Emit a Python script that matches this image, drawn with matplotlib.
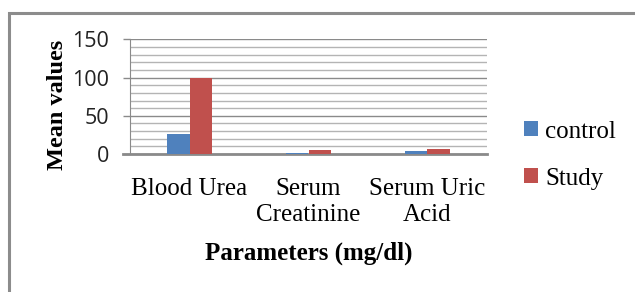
import numpy as np
import matplotlib.pyplot as plt
from matplotlib.patches import Rectangle

categories = ['Blood Urea', 'Serum\nCreatinine', 'Serum Uric\nAcid']
control = [26, 0.9, 4]
study = [100, 5, 7]

fig = plt.figure(figsize=(6.35, 2.92), dpi=100)

# outer chart border (top and left edges visible)
fig.patches.append(Rectangle((8.5 / 635, -0.1), 1.2, 1 - 13.5 / 292 + 0.1,
                             transform=fig.transFigure, fill=False,
                             edgecolor='#8c8c8c', linewidth=2.2))

ax = fig.add_axes([130 / 635, 1 - 154 / 292, 357 / 635, 114.5 / 292])
x = np.arange(len(categories))
w = 0.193
ax.bar(x - w / 2, control, w, color='#4F81BD', label='control', zorder=3)
ax.bar(x + w / 2, study, w, color='#C0504D', label='Study', zorder=3)

ax.set_xlim(-0.5, 2.5)
ax.set_ylim(0, 150)
ax.set_yticks([0, 50, 100, 150])
ax.set_yticks(np.arange(0, 151, 10), minor=True)
ax.yaxis.grid(True, which='major', color='#8a8a8a', linewidth=1.0, zorder=0)
ax.yaxis.grid(True, which='minor', color='#b4b4b4', linewidth=1.0, zorder=0)
ax.tick_params(axis='y', which='major', length=5, width=1, color='#8a8a8a',
               labelsize=15.5, pad=10)
ax.tick_params(axis='y', which='minor', length=0)
for lab in ax.get_yticklabels():
    lab.set_family('Open Sans')
    lab.set_color('#222222')

ax.set_xticks(x)
ax.set_xticklabels(categories, family='Liberation Serif', fontsize=18,
                   linespacing=1.25)
ax.tick_params(axis='x', length=0, pad=17)

for s in ['top', 'right']:
    ax.spines[s].set_visible(False)
ax.spines['left'].set_color('#8a8a8a')
ax.spines['bottom'].set_color('#8a8a8a')
ax.spines['bottom'].set_linewidth(2)
ax.spines['bottom'].set_bounds(-0.56, 2.5)

ax.set_ylabel('Mean values', family='Liberation Serif', fontsize=17.5,
              fontweight='bold')
ax.yaxis.set_label_coords(-0.175, 0.43)
ax.set_xlabel('Parameters (mg/dl)', family='Liberation Serif', fontsize=18,
              fontweight='bold', labelpad=11)

ax.legend(loc='center left', bbox_to_anchor=(1.04, -0.01), frameon=False,
          prop={'family': 'Liberation Serif', 'size': 18},
          handlelength=0.55, handleheight=0.55, handletextpad=0.3,
          labelspacing=1.0)

plt.savefig('out.png', dpi=100)
